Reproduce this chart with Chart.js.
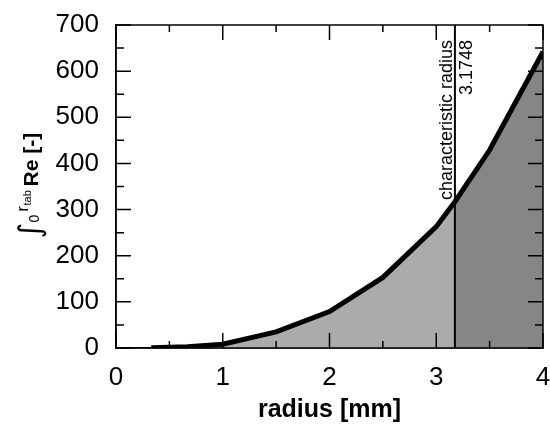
<!DOCTYPE html>
<html>
<head>
<meta charset="utf-8">
<script src="https://cdn.jsdelivr.net/npm/chart.js@4"></script>
<style>
  html, body { margin: 0; padding: 0; background: #fff; }
  #wrap { width: 550px; height: 424px; }
</style>
</head>
<body>
<div id="wrap"><canvas id="chart" width="550" height="424"></canvas></div>
<script>
// values
const radius = [0.33, 0.67, 1, 1.5, 2, 2.5, 3, 3.1748, 3.5, 4];
const reIntegral = [0.5, 2.5, 8, 35, 79, 153, 263, 317, 429, 642];
const charRadius = 3.1748;
const charLabel = 'characteristic radius';
const charValueLabel = '3.1748';
const xTickValues = [0, 1, 2, 3, 4];
const yTickValues = [0, 100, 200, 300, 400, 500, 600, 700];

const FONT = '"Liberation Sans", Arial, "DejaVu Sans", sans-serif';

function pointsWhere(test) {
  const pts = [];
  radius.forEach(function(x, i) {
    if (test(x)) pts.push({ x: x, y: reIntegral[i] });
  });
  return pts;
}

// inward tick marks on all four sides + closed frame
const frameTicks = {
  id: 'frameTicks',
  afterDatasetsDraw(chart) {
    const ctx = chart.ctx;
    const a = chart.chartArea;
    const xs = chart.scales.x, ys = chart.scales.y;
    ctx.save();
    ctx.strokeStyle = '#000';
    ctx.lineWidth = 1.5;
    ctx.strokeRect(a.left, a.top, a.right - a.left, a.bottom - a.top);
    ctx.beginPath();
    for (let i = 0; i < xTickValues.length; i++) {
      const v = xTickValues[i];
      let px = xs.getPixelForValue(v);
      ctx.moveTo(px, a.bottom); ctx.lineTo(px, a.bottom - 15);
      ctx.moveTo(px, a.top); ctx.lineTo(px, a.top + 15);
      if (i < xTickValues.length - 1) {
        px = xs.getPixelForValue((v + xTickValues[i + 1]) / 2);
        ctx.moveTo(px, a.bottom); ctx.lineTo(px, a.bottom - 7);
        ctx.moveTo(px, a.top); ctx.lineTo(px, a.top + 7);
      }
    }
    for (let i = 0; i < yTickValues.length; i++) {
      const v = yTickValues[i];
      let py = ys.getPixelForValue(v);
      ctx.moveTo(a.left, py); ctx.lineTo(a.left + 15, py);
      ctx.moveTo(a.right, py); ctx.lineTo(a.right - 15, py);
      if (i < yTickValues.length - 1) {
        py = ys.getPixelForValue((v + yTickValues[i + 1]) / 2);
        ctx.moveTo(a.left, py); ctx.lineTo(a.left + 8, py);
        ctx.moveTo(a.right, py); ctx.lineTo(a.right - 8, py);
      }
    }
    ctx.stroke();
    ctx.restore();
  }
};

// titles and the rotated annotation text
const labels = {
  id: 'labels',
  afterDraw(chart) {
    const ctx = chart.ctx;
    const a = chart.chartArea;
    const xs = chart.scales.x;
    ctx.save();
    ctx.fillStyle = '#000';

    // x title
    ctx.font = 'bold 25px ' + FONT;
    ctx.textAlign = 'center';
    ctx.textBaseline = 'middle';
    ctx.fillText('radius [mm]', (a.left + a.right) / 2, 410);

    // annotation next to the vertical line
    const lx = xs.getPixelForValue(charRadius);
    ctx.font = '18px ' + FONT;
    ctx.textAlign = 'right';
    ctx.textBaseline = 'alphabetic';
    ctx.save();
    ctx.translate(lx - 3, 40);
    ctx.rotate(-Math.PI / 2);
    ctx.fillText(charLabel, 0, 0);
    ctx.restore();
    ctx.save();
    ctx.translate(lx + 17, 40);
    ctx.rotate(-Math.PI / 2);
    ctx.fillText(charValueLabel, 0, 0);
    ctx.restore();

    // y title: integral from 0 to r_tab of Re [-]
    const cy = (a.top + a.bottom) / 2;
    ctx.translate(38, cy);
    ctx.rotate(-Math.PI / 2);
    ctx.textAlign = 'left';
    ctx.font = '30px "DejaVu Sans", sans-serif';
    ctx.fillText('\u222B', -52, 2);
    ctx.font = '14px ' + FONT;
    ctx.fillText('0', -36, 1);
    ctx.font = '16px ' + FONT;
    ctx.fillText('r', -25, -10);
    ctx.font = '11px ' + FONT;
    ctx.fillText('tab', -19, -7);
    ctx.font = 'bold 21px ' + FONT;
    ctx.fillText('Re [-]', 0, 0);
    ctx.restore();
  }
};

new Chart(document.getElementById('chart'), {
  type: 'line',
  data: {
    datasets: [
      {
        data: pointsWhere(function() { return true; }),
        borderColor: '#000',
        borderWidth: 5,
        pointRadius: 0,
        fill: false,
        tension: 0
      },
      {
        data: [{ x: charRadius, y: 0 }, { x: charRadius, y: 700 }],
        borderColor: '#000',
        borderWidth: 2,
        pointRadius: 0,
        fill: false
      },
      {
        data: pointsWhere(function(x) { return x <= charRadius; }),
        borderWidth: 0,
        borderColor: 'rgba(0,0,0,0)',
        backgroundColor: '#ababab',
        pointRadius: 0,
        fill: 'origin'
      },
      {
        data: pointsWhere(function(x) { return x >= charRadius; }),
        borderWidth: 0,
        borderColor: 'rgba(0,0,0,0)',
        backgroundColor: '#868686',
        pointRadius: 0,
        fill: 'origin'
      }
    ]
  },
  options: {
    responsive: false,
    devicePixelRatio: 1,
    animation: false,
    layout: { padding: { top: 25, right: 7, left: 0, bottom: 0 } },
    plugins: {
      legend: { display: false },
      tooltip: { enabled: false }
    },
    scales: {
      x: {
        type: 'linear',
        min: 0,
        max: 4,
        afterFit: function(s) { s.height = 76; s.paddingLeft = 0; s.paddingRight = 0; },
        afterBuildTicks: function(s) { s.ticks = xTickValues.map(function(v) { return { value: v }; }); },
        ticks: { color: '#000', font: { family: FONT, size: 26 }, padding: 14, maxRotation: 0 },
        grid: { display: false, drawTicks: false },
        border: { display: true, color: '#000', width: 1.5 }
      },
      y: {
        min: 0,
        max: 700,
        afterFit: function(s) { s.width = 116; s.paddingTop = 0; s.paddingBottom = 0; },
        afterBuildTicks: function(s) { s.ticks = yTickValues.map(function(v) { return { value: v }; }); },
        ticks: { color: '#000', font: { family: FONT, size: 26 }, padding: 17 },
        grid: { display: false, drawTicks: false },
        border: { display: true, color: '#000', width: 1.5 }
      }
    }
  },
  plugins: [frameTicks, labels]
});
</script>
</body>
</html>
